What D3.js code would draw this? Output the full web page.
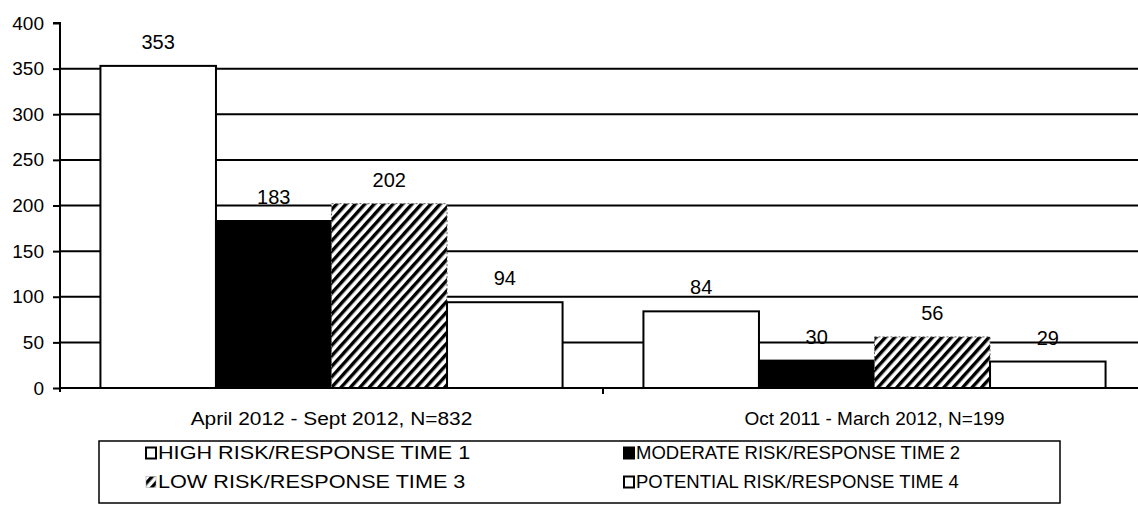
<!DOCTYPE html>
<html>
<head>
<meta charset="utf-8">
<script src="https://cdn.jsdelivr.net/npm/d3@7"></script>
<style>
  body { margin: 0; background: #fff; }
  svg text { font-family: Arial, "Liberation Sans", sans-serif; fill: #000; }
</style>
</head>
<body>
<svg id="chart" width="1138" height="510"></svg>
<script>
'use strict';

var groups = ['April 2012 - Sept 2012, N=832', 'Oct 2011 - March 2012, N=199'];
var seriesNames = [
    'HIGH RISK/RESPONSE TIME 1',
    'MODERATE RISK/RESPONSE TIME 2',
    'LOW RISK/RESPONSE TIME 3',
    'POTENTIAL RISK/RESPONSE TIME 4'
];
var highRisk = [353, 84];
var moderateRisk = [183, 30];
var lowRisk = [202, 56];
var potentialRisk = [94, 29];
var yTicks = [0, 50, 100, 150, 200, 250, 300, 350, 400];

var seriesValues = [highRisk, moderateRisk, lowRisk, potentialRisk];
var fills = ['#fff', '#000', 'url(#hatch)', '#fff'];

// the scan is a bit wider on its left half
var leftStretchLegend = 1.17;
var leftStretchLabel = 1.1;

var svg = d3.select('#chart');

var defs = svg.append('defs');
var pat = defs.append('pattern')
    .attr('id', 'hatch')
    .attr('patternUnits', 'userSpaceOnUse')
    .attr('width', 7)
    .attr('height', 7)
    .attr('patternTransform', 'rotate(42)');
pat.append('rect').attr('width', 7).attr('height', 7).attr('fill', '#fff');
pat.append('rect').attr('width', 3.4).attr('height', 7).attr('fill', '#000');

var x0 = d3.scaleBand()
    .domain(groups)
    .range([60, 1146]);

var x1 = d3.scaleBand()
    .domain(seriesNames)
    .range([0, x0.bandwidth()])
    .paddingOuter(0.35);

var y = d3.scaleLinear()
    .domain([0, 400])
    .range([388, 23]);

// gridlines
svg.append('g')
    .selectAll('line')
    .data(yTicks.filter(function(t) { return t > 0 && t < 400; }))
    .enter().append('line')
    .attr('x1', 60)
    .attr('x2', 1146)
    .attr('y1', function(d) { return y(d); })
    .attr('y2', function(d) { return y(d); })
    .attr('stroke', '#000')
    .attr('stroke-width', 2);

// y axis
var yAxis = d3.axisLeft(y).tickValues(yTicks).tickSize(7).tickPadding(9);
var gy = svg.append('g')
    .attr('transform', 'translate(60,0)')
    .call(yAxis);
gy.select('.domain').attr('stroke-width', 2).attr('d', 'M-7,' + y(400) + 'H0V' + (y(0) + 4));
gy.selectAll('.tick line').attr('stroke-width', 2);
gy.selectAll('.tick text').style('font-size', '19px').style('font-family', 'Arial, "Liberation Sans", sans-serif');

// bars
var rows = [];
groups.forEach(function(g, gi) {
    seriesNames.forEach(function(s, si) {
        rows.push({ group: g, gi: gi, series: s, index: si, value: seriesValues[si][gi] });
    });
});

var barG = svg.append('g');
barG.selectAll('rect')
    .data(rows)
    .enter().append('rect')
    .attr('x', function(d) { return x0(d.group) + x1(d.series); })
    .attr('y', function(d) { return y(d.value); })
    .attr('width', x1.bandwidth())
    .attr('height', function(d) { return y(0) - y(d.value); })
    .attr('fill', function(d) { return fills[d.index]; })
    .attr('stroke', function(d) { return d.index === 2 ? '#666' : '#000'; })
    .attr('stroke-dasharray', function(d) { return d.index === 2 ? '2,2' : null; })
    .attr('stroke-width', function(d) { return d.index === 2 ? 1 : 2; });

// value labels
barG.selectAll('text')
    .data(rows)
    .enter().append('text')
    .attr('x', function(d) { return x0(d.group) + x1(d.series) + x1.bandwidth() / 2; })
    .attr('y', function(d) { return y(d.value) - 17; })
    .attr('text-anchor', 'middle')
    .style('font-size', '20px')
    .text(function(d) { return d.value; });

// x axis
var xAxis = d3.axisBottom(x0).tickSize(0).tickPadding(24);
var gx = svg.append('g')
    .attr('transform', 'translate(0,' + y(0) + ')')
    .call(xAxis);
gx.select('.domain').attr('stroke-width', 2).attr('d', 'M60,0H1146');
gx.selectAll('.tick text')
    .style('font-size', '19px')
    .style('font-family', 'Arial, "Liberation Sans", sans-serif')
    .attr('transform', function(d, i) { return i === 0 ? 'scale(' + leftStretchLabel + ',1)' : null; });
gx.append('line')
    .attr('x1', x0.range()[0] + x0.bandwidth()).attr('x2', x0.range()[0] + x0.bandwidth())
    .attr('y1', 0).attr('y2', 6)
    .attr('stroke', '#000').attr('stroke-width', 2);

// legend
var legend = svg.append('g');
legend.append('rect')
    .attr('x', 99).attr('y', 441)
    .attr('width', 961).attr('height', 62)
    .attr('fill', 'none')
    .attr('stroke', '#000')
    .attr('stroke-width', 1.5);

var legCols = [145, 623];
var legRows = [453, 482];
var legItems = legend.selectAll('g.item')
    .data(seriesNames)
    .enter().append('g')
    .attr('class', 'item')
    .attr('transform', function(d, i) {
        return 'translate(' + legCols[i % 2] + ',' + legRows[Math.floor(i / 2)] + ')';
    });
legItems.append('rect')
    .attr('x', 1).attr('y', -5.5)
    .attr('width', 10).attr('height', 11)
    .attr('fill', function(d, i) { return fills[i]; })
    .attr('stroke', function(d, i) { return i === 2 ? '#999' : '#000'; })
    .attr('stroke-width', function(d, i) { return i === 2 ? 0.5 : 2; });
legItems.append('text')
    .attr('transform', function(d, i) {
        var sx = i % 2 === 0 ? leftStretchLegend : 1;
        return 'translate(13,0) scale(' + sx + ',1)';
    })
    .attr('dy', '0.35em')
    .style('font-size', '18.5px')
    .text(function(d) { return d; });
</script>
</body>
</html>
